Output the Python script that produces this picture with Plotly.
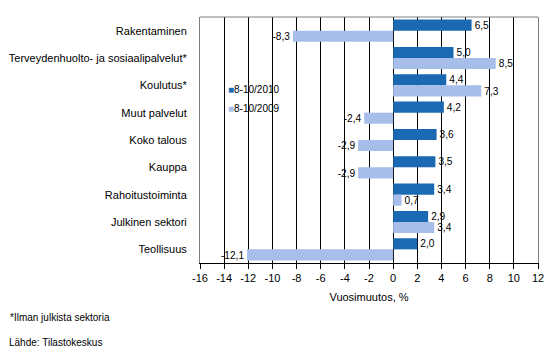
import plotly.graph_objects as go

categories = ["Rakentaminen", "Terveydenhuolto- ja sosiaalipalvelut*", "Koulutus*",
              "Muut palvelut", "Koko talous", "Kauppa", "Rahoitustoiminta",
              "Julkinen sektori", "Teollisuus"]
v2010 = [6.5, 5.0, 4.4, 4.2, 3.6, 3.5, 3.4, 2.9, 2.0]
v2009 = [-8.3, 8.5, 7.3, -2.4, -2.9, -2.9, 0.7, 3.4, -12.1]
series_names = ["8-10/2010", "8-10/2009"]
tick_vals = list(range(-16, 13, 2))

c_dark = "#1B69B3"
c_light = "#A7BEEA"
font = "Liberation Sans, Arial, sans-serif"

def fmt(v):
    return f"{v:.1f}".replace(".", ",")

fig = go.Figure()
for name, vals, col in [(series_names[0], v2010, c_dark), (series_names[1], v2009, c_light)]:
    fig.add_trace(go.Bar(
        y=categories, x=vals, orientation="h", name=name, marker_color=col,
        marker_line_width=0, text=[fmt(v) for v in vals], textposition="outside",
        textfont=dict(family=font, size=11, color="black"), cliponaxis=False,
        showlegend=False, hoverinfo="skip"))
    fig.add_trace(go.Scatter(
        x=[None], y=[None], mode="markers",
        name=f'<span style="color:{col}; font-size:10px">■</span>{name}',
        marker=dict(symbol="square", size=1, color="rgba(0,0,0,0)"), showlegend=True))

# page has an 8px body margin; figure is sized/offset to compensate
fig.update_layout(
    width=546, height=349,
    margin=dict(l=192, r=16, t=9, b=94, autoexpand=False),
    paper_bgcolor="white", plot_bgcolor="white",
    barmode="group", bargap=0.19, bargroupgap=0,
    font=dict(family=font, size=11, color="black"),
    legend=dict(x=-12/338, y=1 - 58/246, xanchor="left", yanchor="top",
                font=dict(size=10), bgcolor="rgba(0,0,0,0)",
                tracegroupgap=0, itemwidth=30),
    xaxis=dict(range=[-16, 12], tickvals=tick_vals, ticktext=[str(t) for t in tick_vals],
               showgrid=True, gridcolor="black", gridwidth=1,
               zeroline=True, zerolinecolor="black", zerolinewidth=1,
               showline=True, linecolor="black", linewidth=1,
               ticks="outside", ticklen=5, tickcolor="black",
               tickfont=dict(size=11), automargin=False,
               title=dict(text="Vuosimuutos, %", font=dict(size=11), standoff=10)),
    yaxis=dict(autorange="reversed", showgrid=False, showline=True, linecolor="#808080",
               mirror=True, ticks="", tickfont=dict(size=11), ticklabelstandoff=10,
               automargin=False),
    shapes=[dict(type="line", xref="paper", yref="paper", x0=0, x1=1, y0=1, y1=1,
                 line=dict(color="#808080", width=1))],
    annotations=[
        dict(text="*Ilman julkista sektoria", xref="paper", yref="paper",
             x=-192/338, y=-54/246, xanchor="left", yanchor="middle",
             showarrow=False, font=dict(size=10)),
        dict(text="Lähde: Tilastokeskus", xref="paper", yref="paper",
             x=-193/338, y=-79/246, xanchor="left", yanchor="middle",
             showarrow=False, font=dict(size=10)),
    ],
)

fig.write_html("out.html")
